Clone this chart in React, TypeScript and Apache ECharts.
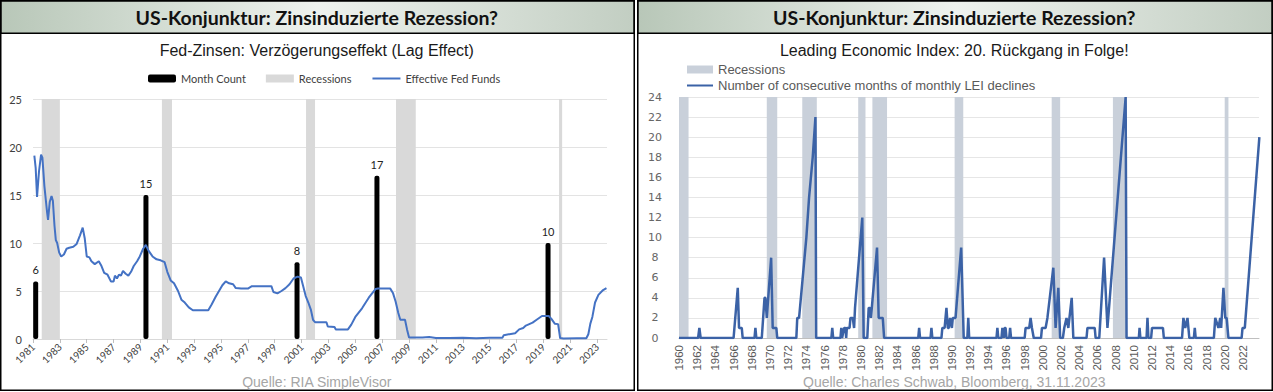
import React, { useEffect, useRef } from "react";
import * as echarts from "echarts";

// ---------- Left chart data ----------
const FED_START = 1981;
const fedTickYears = [1981, 1983, 1985, 1987, 1989, 1991, 1993, 1995, 1997, 1999, 2001, 2003, 2005, 2007, 2009, 2011, 2013, 2015, 2017, 2019, 2021, 2023];
const fedFunds: [number, number][] = [
  [1981.1, 19.1], [1981.2, 17.8], [1981.3, 14.8], [1981.45, 17.5], [1981.6, 19.2], [1981.7, 18.9],
  [1981.85, 15.9], [1982.05, 13.2], [1982.12, 12.4], [1982.25, 14.3], [1982.38, 14.9], [1982.48, 14.4],
  [1982.6, 11.8], [1982.7, 10.3], [1982.8, 10.0], [1982.95, 9.0], [1983.1, 8.6], [1983.3, 8.8],
  [1983.5, 9.4], [1983.7, 9.5], [1984.0, 9.6], [1984.25, 9.9], [1984.5, 10.8], [1984.7, 11.6],
  [1984.85, 10.5], [1985.0, 8.6], [1985.2, 8.5], [1985.35, 8.1], [1985.6, 7.8], [1985.9, 8.1],
  [1986.1, 7.6], [1986.3, 6.9], [1986.55, 6.7], [1986.8, 6.0], [1987.0, 6.0], [1987.1, 6.6],
  [1987.25, 6.3], [1987.4, 6.7], [1987.55, 6.6], [1987.7, 7.1], [1987.9, 6.8], [1988.1, 6.6],
  [1988.3, 7.0], [1988.5, 7.6], [1988.75, 8.1], [1988.95, 8.6], [1989.2, 9.4], [1989.4, 9.8],
  [1989.6, 9.2], [1989.9, 8.6], [1990.2, 8.3], [1990.5, 8.2], [1990.8, 8.0], [1991.0, 7.0],
  [1991.25, 6.1], [1991.5, 5.8], [1991.8, 5.0], [1992.05, 4.1], [1992.3, 3.8], [1992.6, 3.3],
  [1992.9, 3.0], [1993.3, 3.0], [1993.7, 3.0], [1994.05, 3.0], [1994.3, 3.6], [1994.6, 4.4],
  [1994.85, 5.0], [1995.1, 5.6], [1995.35, 6.0], [1995.6, 5.8], [1995.9, 5.7], [1996.1, 5.3],
  [1996.5, 5.25], [1997.0, 5.25], [1997.3, 5.5], [1997.8, 5.5], [1998.3, 5.5], [1998.75, 5.5],
  [1998.9, 4.9], [1999.2, 4.75], [1999.5, 5.0], [1999.8, 5.3], [2000.1, 5.7], [2000.4, 6.3],
  [2000.7, 6.5], [2000.95, 6.4], [2001.1, 5.6], [2001.3, 4.5], [2001.5, 3.8], [2001.7, 3.0],
  [2001.85, 2.0], [2002.0, 1.75], [2002.5, 1.75], [2002.85, 1.75], [2002.95, 1.3], [2003.45, 1.25],
  [2003.55, 1.0], [2004.45, 1.0], [2004.7, 1.5], [2005.0, 2.3], [2005.5, 3.2], [2006.0, 4.3],
  [2006.5, 5.2], [2006.7, 5.25], [2007.6, 5.25], [2007.8, 4.8], [2008.0, 3.9], [2008.2, 2.7],
  [2008.35, 2.0], [2008.7, 2.0], [2008.85, 1.0], [2009.0, 0.15], [2010.0, 0.15], [2010.5, 0.2],
  [2011.0, 0.1], [2012.0, 0.1], [2013.0, 0.12], [2014.0, 0.08], [2015.0, 0.12], [2015.95, 0.12],
  [2016.05, 0.4], [2016.9, 0.6], [2017.2, 1.0], [2017.5, 1.15], [2017.7, 1.4], [2018.2, 1.7],
  [2018.5, 2.0], [2018.9, 2.4], [2019.4, 2.4], [2019.6, 2.1], [2019.85, 1.6], [2020.1, 1.55],
  [2020.25, 0.1], [2020.5, 0.05], [2021.5, 0.08], [2022.2, 0.08], [2022.35, 0.5], [2022.5, 1.6],
  [2022.65, 2.3], [2022.85, 3.8], [2023.1, 4.6], [2023.45, 5.1], [2023.7, 5.3],
];
const monthCountYears = [1981.2, 1989.41, 2000.66, 2006.61, 2019.35];
const monthCountValues = [6, 15, 8, 17, 10];
const fedRecessions: [number, number][] = [
  [1981.65, 1983.0], [1990.6, 1991.35], [2001.33, 2002.0], [2008.03, 2009.5], [2020.17, 2020.4],
];

// ---------- Right chart data ----------
const LEI_START = 1960;
const leiDeclines: [number, number][] = [
  [1960.0, 0], [1962.1, 0], [1962.24, 1], [1962.38, 0],
  [1966.0, 0], [1966.46, 5], [1966.6, 1], [1966.9, 1], [1967.0, 0],
  [1968.3, 0], [1968.4, 1], [1968.5, 0],
  [1969.1, 0], [1969.4, 4], [1969.5, 4], [1969.65, 2], [1970.13, 8], [1970.3, 1], [1970.7, 1], [1970.8, 0],
  [1972.9, 0], [1973.0, 2], [1973.2, 2], [1974.0, 10], [1974.3, 14], [1974.7, 18], [1975.0, 22], [1975.08, 0],
  [1976.75, 0], [1976.85, 1], [1976.95, 0],
  [1977.75, 0], [1977.84, 1], [1977.93, 0], [1978.15, 1], [1978.3, 1], [1978.38, 0], [1978.45, 1], [1978.75, 1],
  [1978.85, 2], [1979.1, 2], [1979.25, 1], [1979.35, 3], [1980.15, 12], [1980.3, 0],
  [1980.7, 0], [1980.85, 3], [1981.0, 3], [1981.1, 2], [1981.77, 9], [1981.95, 2], [1982.1, 2], [1982.4, 2], [1982.55, 0],
  [1986.3, 0], [1986.4, 1], [1986.5, 0],
  [1987.65, 0], [1987.75, 1], [1987.85, 0],
  [1988.85, 0], [1988.95, 1], [1989.2, 1], [1989.4, 3], [1989.55, 1], [1989.65, 1], [1989.8, 2], [1990.0, 1],
  [1990.1, 2], [1990.4, 2], [1991.02, 9], [1991.3, 0],
  [1991.7, 0], [1991.8, 2], [1991.9, 0],
  [1994.9, 0], [1995.0, 1], [1995.1, 0], [1995.45, 0], [1995.55, 1], [1995.7, 0], [1995.8, 1], [1995.9, 1], [1996.0, 0],
  [1996.3, 0], [1996.4, 1], [1996.5, 0],
  [1998.0, 0], [1998.1, 1], [1998.5, 1], [1998.65, 2], [1998.8, 1], [1999.0, 0],
  [1999.8, 0], [1999.9, 1], [2000.3, 1], [2000.5, 2], [2001.15, 7], [2001.4, 1], [2001.7, 5], [2001.9, 0],
  [2002.2, 0], [2002.35, 1], [2002.6, 2], [2002.8, 1], [2003.17, 4], [2003.35, 0],
  [2004.8, 0], [2004.9, 1], [2005.7, 1], [2005.8, 0],
  [2006.2, 0], [2006.73, 8], [2007.1, 1], [2009.1, 24], [2009.2, 0],
  [2010.55, 0], [2010.63, 1], [2010.72, 0],
  [2011.4, 0], [2011.5, 2], [2011.6, 0],
  [2011.9, 0], [2012.0, 1], [2013.2, 1], [2013.3, 0],
  [2015.3, 0], [2015.45, 2], [2015.65, 1], [2015.9, 2], [2016.1, 0],
  [2016.6, 0], [2016.7, 1], [2016.8, 0],
  [2018.8, 0], [2018.95, 2], [2019.3, 1], [2019.5, 2], [2019.6, 1], [2019.85, 5], [2020.05, 2], [2020.2, 2], [2020.4, 0],
  [2021.85, 0], [2021.95, 1], [2022.2, 1], [2023.8, 20],
];
const leiRecessions: [number, number][] = [
  [1960.0, 1961.05], [1969.65, 1970.8], [1973.55, 1975.15], [1979.7, 1980.5], [1981.26, 1982.87],
  [1990.3, 1991.25], [2000.97, 2001.9], [2007.7, 2009.2], [2019.99, 2020.4],
];

const PANEL_TITLE = "US-Konjunktur: Zinsinduzierte Rezession?";
const LEFT_SUBTITLE = "Fed-Zinsen: Verzögerungseffekt (Lag Effect)";
const RIGHT_SUBTITLE = "Leading Economic Index: 20. Rückgang in Folge!";
const LEFT_SOURCE = "Quelle: RIA SimpleVisor";
const RIGHT_SOURCE = "Quelle: Charles Schwab, Bloomberg, 31.11.2023";
const LEI_NAME = "Number of consecutive months of monthly LEI declines";

const NARROW = "'Liberation Sans Narrow', 'Arial Narrow', 'Liberation Sans', sans-serif";

export default function App() {
  const ref = useRef<HTMLDivElement>(null);
  useEffect(() => {
    if (!ref.current) return;
    const chart = echarts.init(ref.current, null, { renderer: "svg" });

    const titleGradient = () =>
      new echarts.graphic.LinearGradient(0, 0, 1, 0, [
        { offset: 0, color: "#b8c7b8" },
        { offset: 0.5, color: "#eef2ee" },
        { offset: 1, color: "#c2cec2" },
      ]);

    const panel = (x0: number, w: number, sub: string, src: string) => [
      { type: "rect", z: 100, shape: { x: x0 + 0.75, y: 0.75, width: w, height: 32.5 }, style: { fill: titleGradient(), stroke: "#000", lineWidth: 1.5 } },
      { type: "rect", z: 100, shape: { x: x0 + 0.75, y: 0.75, width: w, height: 389.5 }, style: { fill: "none", stroke: "#000", lineWidth: 1.5 } },
      { type: "text", z: 101, x: x0 + w / 2, y: 17, style: { text: PANEL_TITLE, fontFamily: "Lato", fontWeight: "bold", fontSize: 19.5, fill: "#111", align: "center", verticalAlign: "middle" } },
      { type: "text", z: 101, x: x0 + w / 2, y: 50, style: { text: sub, fontFamily: NARROW, fontSize: 16, fill: "#1a1a1a", align: "center", verticalAlign: "middle" } },
      { type: "text", z: 101, x: x0 + w / 2, y: 382, style: { text: src, fontFamily: NARROW, fontSize: 14, fill: "#a6a6a6", align: "center", verticalAlign: "middle" } },
    ];

    const fedLabel = (v: number) => {
      const y = FED_START + v;
      return fedTickYears.includes(y) && Math.abs(v - Math.round(v)) < 1e-6 ? String(y) : "";
    };

    chart.setOption({
      animation: false,
      backgroundColor: "#fff",
      graphic: [...panel(0, 633.5, LEFT_SUBTITLE, LEFT_SOURCE), ...panel(637, 634.5, RIGHT_SUBTITLE, RIGHT_SOURCE)],
      legend: [
        {
          left: 143,
          top: 68,
          itemWidth: 28,
          itemHeight: 8,
          itemGap: 20,
          data: [
            { name: "Month Count", icon: "roundRect" },
            { name: "Recessions", icon: "rect" },
            { name: "Effective Fed Funds", itemStyle: { opacity: 0 } },
          ],
          textStyle: { fontFamily: "Lato", fontSize: 11, color: "#404040" },
        },
        {
          left: 681,
          top: 58,
          orient: "vertical",
          itemWidth: 26,
          itemHeight: 8,
          itemGap: 3,
          data: [{ name: "Recessions LEI", icon: "rect" }, { name: LEI_NAME, itemStyle: { opacity: 0 } }],
          formatter: (n: string) => (n === "Recessions LEI" ? "Recessions" : n),
          textStyle: { fontFamily: "'Liberation Sans', Arial, sans-serif", fontSize: 13, color: "#595959" },
        },
      ],
      grid: [
        { left: 33, top: 99, width: 574, height: 240 },
        { left: 679, top: 97, width: 580, height: 241 },
      ],
      xAxis: [
        {
          type: "value",
          gridIndex: 0,
          min: 0,
          max: 42.74,
          interval: 2,
          splitLine: { show: false },
          axisLine: { show: true, lineStyle: { color: "#d9d9d9" } },
          axisTick: { show: true, length: 4, lineStyle: { color: "#bfbfbf" } },
          axisLabel: { rotate: 45, fontFamily: "Lato", fontSize: 10, color: "#404040", margin: 6, showMaxLabel: false, formatter: fedLabel },
        },
        {
          type: "value",
          gridIndex: 1,
          min: 0,
          max: 63.76,
          interval: 2,
          splitLine: { show: false },
          axisLine: { show: true, lineStyle: { color: "#bfbfbf" } },
          axisTick: { show: false },
          axisLabel: {
            rotate: 90,
            fontFamily: "'Liberation Sans', Arial, sans-serif",
            fontSize: 11.5,
            color: "#595959",
            margin: 7,
            showMaxLabel: false,
            formatter: (v: number) => (Math.abs(v - Math.round(v)) < 1e-6 && v <= 62 ? String(LEI_START + v) : ""),
          },
        },
      ],
      yAxis: [
        {
          type: "value",
          gridIndex: 0,
          min: 0,
          max: 25,
          interval: 5,
          axisLine: { show: false },
          axisTick: { show: false },
          splitLine: { lineStyle: { color: "#e3e3e3" } },
          axisLabel: { fontFamily: "Lato", fontSize: 11, color: "#404040", margin: 11 },
        },
        {
          type: "value",
          gridIndex: 1,
          min: 0,
          max: 24,
          interval: 2,
          axisLine: { show: false },
          axisTick: { show: false },
          splitLine: { lineStyle: { color: "#e6e6e6" } },
          axisLabel: { fontFamily: "'DejaVu Sans', sans-serif", fontSize: 11, color: "#666", margin: 24, align: "center" },
        },
      ],
      series: [
        {
          name: "Recessions",
          type: "line",
          xAxisIndex: 0,
          yAxisIndex: 0,
          data: [],
          symbol: "none",
          z: 1,
          itemStyle: { color: "#d9d9d9" },
          lineStyle: { color: "#d9d9d9" },
          markArea: {
            silent: true,
            itemStyle: { color: "#d9d9d9" },
            data: fedRecessions.map(([a, b]) => [{ xAxis: a - FED_START }, { xAxis: b - FED_START }]),
          },
        },
        {
          name: "Month Count",
          type: "bar",
          xAxisIndex: 0,
          yAxisIndex: 0,
          barWidth: 5,
          z: 3,
          itemStyle: { color: "#000", borderRadius: 2 },
          label: { show: true, position: "top", distance: 6, fontFamily: "Lato", fontSize: 11, color: "#222" },
          data: monthCountYears.map((y, i) => [y - FED_START, monthCountValues[i]]),
        },
        {
          name: "Effective Fed Funds",
          type: "line",
          xAxisIndex: 0,
          yAxisIndex: 0,
          symbol: "none",
          z: 4,
          lineStyle: { color: "#4472c4", width: 2 },
          itemStyle: { color: "#4472c4" },
          data: fedFunds.map(([y, v]) => [y - FED_START, v]),
        },
        {
          name: "Recessions LEI",
          type: "line",
          xAxisIndex: 1,
          yAxisIndex: 1,
          data: [],
          symbol: "none",
          z: 1,
          itemStyle: { color: "#c9d0da" },
          lineStyle: { color: "#c9d0da" },
          markArea: {
            silent: true,
            itemStyle: { color: "#c9d0da" },
            data: leiRecessions.map(([a, b]) => [{ xAxis: a - LEI_START }, { xAxis: b - LEI_START }]),
          },
        },
        {
          name: LEI_NAME,
          type: "line",
          xAxisIndex: 1,
          yAxisIndex: 1,
          symbol: "none",
          z: 4,
          lineStyle: { color: "#3b62a6", width: 2.5 },
          itemStyle: { color: "#3b62a6" },
          data: leiDeclines.map(([y, v]) => [y - LEI_START, v]),
        },
      ],
    });
    return () => chart.dispose();
  }, []);

  return (
    <div style={{ position: "fixed", left: 0, top: 0, width: 1273, height: 392, background: "#fff" }}>
      <div ref={ref} style={{ width: 1273, height: 392 }} />
    </div>
  );
}
